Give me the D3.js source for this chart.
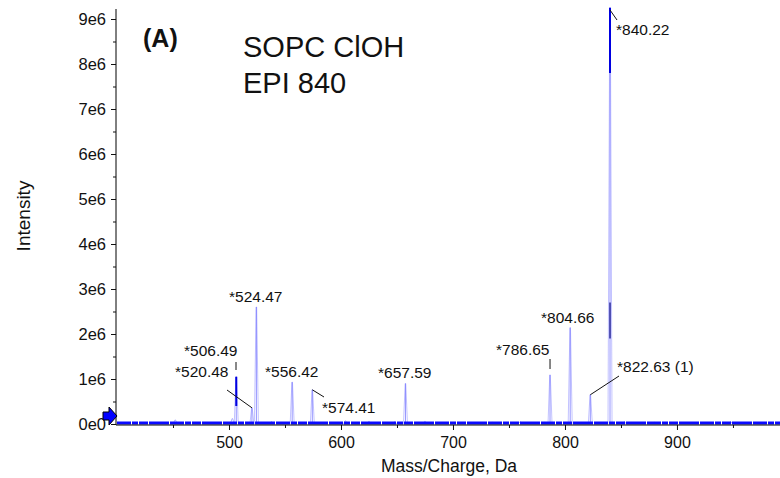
<!DOCTYPE html>
<html>
<head>
<meta charset="utf-8">
<script src="https://cdn.jsdelivr.net/npm/d3@7"></script>
<style>
  body { margin: 0; background: #fff; }
  svg { display: block; font-family: "Liberation Sans", Arial, sans-serif; }
</style>
</head>
<body>
<svg id="chart" width="780" height="478"></svg>
<script>
// main peaks: m/z and intensity (counts)
const peakMz = [506.49, 520.48, 524.47, 556.42, 574.41, 657.59, 786.65, 804.66, 822.63, 840.22];
const peakIntensity = [1.05e6, 0.36e6, 2.6e6, 0.93e6, 0.76e6, 0.9e6, 1.09e6, 2.14e6, 0.65e6, 9.25e6];
const peakLabels = ["*506.49", "*520.48", "*524.47", "*556.42", "*574.41", "*657.59", "*786.65", "*804.66", "*822.63 (1)", "*840.22"];

// small background peaks
const noiseMz = [452, 503, 538, 604, 625, 648, 675, 735, 760, 782, 853, 880, 948];
const noiseIntensity = [0.09e6, 0.12e6, 0.05e6, 0.07e6, 0.06e6, 0.05e6, 0.06e6, 0.04e6, 0.05e6, 0.04e6, 0.05e6, 0.04e6, 0.05e6];

const yTicks = [0, 1e6, 2e6, 3e6, 4e6, 5e6, 6e6, 7e6, 8e6, 9e6];
const xTicks = [500, 600, 700, 800, 900];

const svg = d3.select("#chart");
const x = d3.scaleLinear().domain([400, 992]).range([117, 780]);
const y = d3.scaleLinear().domain([0, 9e6]).range([424, 19]);

// clip for the spectrum
svg.append("clipPath").attr("id", "plot")
  .append("rect").attr("x", 117).attr("y", 0).attr("width", 663).attr("height", 426);

const spec = svg.append("g").attr("clip-path", "url(#plot)");

// light profile of each peak
const halfW = 1.8; // m/z
const profile = (m, h) => d3.line()([[x(m - halfW), y(0)], [x(m - 0.25), y(h)], [x(m + 0.25), y(h)], [x(m + halfW), y(0)]]);

spec.selectAll(".noise")
  .data(noiseMz)
  .enter().append("path")
  .attr("d", (d, i) => profile(d, noiseIntensity[i]))
  .attr("fill", "none")
  .attr("stroke", "#a0a0ff")
  .attr("stroke-width", 0.8);

spec.selectAll(".peak")
  .data(peakMz)
  .enter().append("path")
  .attr("d", (d, i) => profile(d, peakIntensity[i]))
  .attr("fill", "none")
  .attr("stroke", "#b4b4ff")
  .attr("stroke-width", 0.8);

// centre sticks
spec.selectAll(".stick")
  .data(peakMz)
  .enter().append("line")
  .attr("x1", d => x(d)).attr("x2", d => x(d))
  .attr("y1", y(0))
  .attr("y2", (d, i) => y(peakIntensity[i]))
  .attr("stroke", "#7a7aff")
  .attr("stroke-width", 0.8);

// darker parts on the strong ones
spec.append("line")
  .attr("x1", x(840.22)).attr("x2", x(840.22))
  .attr("y1", y(9.25e6)).attr("y2", y(7.8e6))
  .attr("stroke", "#0000e0").attr("stroke-width", 2);
spec.append("line")
  .attr("x1", x(840.22)).attr("x2", x(840.22))
  .attr("y1", y(2.7e6)).attr("y2", y(1.9e6))
  .attr("stroke", "#000080").attr("stroke-width", 1.2);
spec.append("line")
  .attr("x1", x(506.49)).attr("x2", x(506.49))
  .attr("y1", y(1.05e6)).attr("y2", y(0.4e6))
  .attr("stroke", "#0000e0").attr("stroke-width", 2);

// baseline
spec.append("line")
  .attr("x1", x(400)).attr("x2", x(992))
  .attr("y1", y(0) - 1).attr("y2", y(0) - 1)
  .attr("stroke", "#0a0aff").attr("stroke-width", 3)
  .attr("stroke-dasharray", "14,1,6,1,9,1,20,1");

// axes
const yAxis = d3.axisLeft(y).tickValues(yTicks).tickSize(5)
  .tickFormat(d => d === 0 ? "0e0" : (d / 1e6) + "e6");
const yMinor = d3.axisLeft(y).tickValues(yTicks.map(d => d + 0.5e6)).tickSize(3).tickFormat("");
const xAxis = d3.axisBottom(x).tickValues(xTicks).tickSize(5);
const xMinor = d3.axisBottom(x).tickValues([450, 550, 650, 750, 850, 950]).tickSize(3).tickFormat("");

const gy = svg.append("g").attr("transform", "translate(116,0)").call(yAxis);
svg.append("g").attr("transform", "translate(116,0)").call(yMinor).select(".domain").remove();
gy.select(".domain").attr("d", "M0,9V425");
gy.selectAll("text").attr("font-size", 16.5).attr("fill", "#111").attr("x", -10);

const gx = svg.append("g").attr("transform", "translate(0,425)").call(xAxis);
svg.append("g").attr("transform", "translate(0,425)").call(xMinor).select(".domain").remove();
gx.select(".domain").attr("d", "M116,0H780");
gx.selectAll("text").attr("font-size", 16).attr("fill", "#111").attr("dy", "0.95em");
svg.selectAll(".tick line").attr("stroke", "#111");

// threshold arrow
svg.append("path")
  .attr("d", "M103,412 H109 V407 L117,416 L109,425 V420 H103 Z")
  .attr("fill", "#0000ff").attr("stroke", "#000").attr("stroke-width", 1);

// axis titles
svg.append("text").attr("x", 449).attr("y", 472).attr("text-anchor", "middle")
  .attr("font-size", 17.5).attr("fill", "#111").text("Mass/Charge, Da");
svg.append("text").attr("transform", "translate(30,216) rotate(-90)").attr("text-anchor", "middle")
  .attr("font-size", 19).attr("fill", "#111").text("Intensity");

// panel texts
svg.append("text").attr("x", 143).attr("y", 47).attr("font-size", 25).attr("font-weight", "bold")
  .attr("fill", "#111").text("(A)");
svg.append("text").attr("x", 243).attr("y", 57).attr("font-size", 29).attr("fill", "#111").text("SOPC ClOH");
svg.append("text").attr("x", 243).attr("y", 93).attr("font-size", 29).attr("fill", "#111").text("EPI 840");

// peak labels: text position plus leader line
const labelPos = {
  "*506.49": { dx: 184, dy: 356, lead: [[236, 362], [236, 370]] },
  "*520.48": { dx: 175, dy: 377, lead: [[227, 390], [x(520.48), y(0.36e6)]] },
  "*524.47": { dx: 229, dy: 302, lead: null },
  "*556.42": { dx: 265, dy: 377, lead: null },
  "*574.41": { dx: 322, dy: 413, lead: [[x(574.41), y(0.76e6)], [324, 397]] },
  "*657.59": { dx: 378, dy: 378, lead: null },
  "*786.65": { dx: 496, dy: 355, lead: [[x(786.65), 359], [x(786.65), 369]] },
  "*804.66": { dx: 541, dy: 323, lead: null },
  "*822.63 (1)": { dx: 617, dy: 372, lead: [[x(822.63), y(0.65e6)], [619, 376]] },
  "*840.22": { dx: 616, dy: 35, lead: [[x(840.22), 10], [617, 20]] }
};

const lab = svg.append("g");
peakLabels.forEach(t => {
  const p = labelPos[t];
  lab.append("text").attr("x", p.dx).attr("y", p.dy).attr("font-size", 15.5)
    .attr("fill", "#111").text(t);
  if (p.lead) {
    lab.append("path").attr("d", d3.line()(p.lead))
      .attr("stroke", "#111").attr("stroke-width", 1).attr("fill", "none");
  }
});
</script>
</body>
</html>
